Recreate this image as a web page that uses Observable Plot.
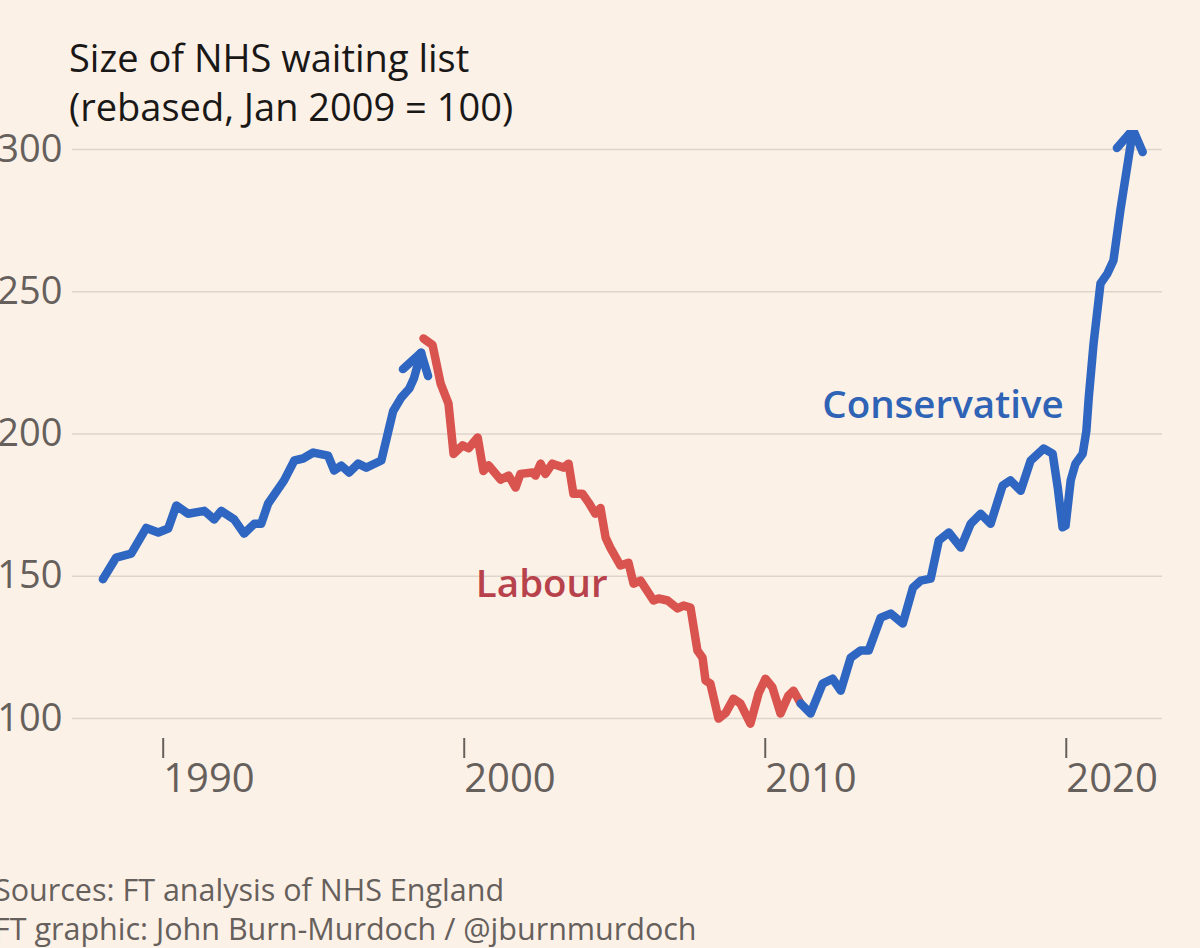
<!DOCTYPE html>
<html><head><meta charset="utf-8">
<script src="https://cdn.jsdelivr.net/npm/d3@7"></script>
<script src="https://cdn.jsdelivr.net/npm/@observablehq/plot@0.6"></script>
<style>
html,body{margin:0;padding:0;background:#fcf1e7;overflow:hidden;width:1200px;height:948px;}
#wrap{position:relative;width:1200px;height:948px;}
#title{position:absolute;left:69px;top:33px;font-family:"Open Sans",sans-serif;font-size:38px;line-height:49px;color:#1a1817;white-space:nowrap;}
#chart{position:absolute;left:0;top:130px;}
#foot{position:absolute;left:-6px;top:870px;font-family:"Open Sans",sans-serif;font-size:30.5px;line-height:39px;color:#66605c;white-space:nowrap;}
</style>
</head><body>
<div id="wrap">
  <div id="title">Size of NHS waiting list<br>(rebased, Jan 2009 = 100)</div>
  <div id="chart"></div>
  <div id="foot">Sources: FT analysis of NHS England<br>FT graphic: John Burn-Murdoch / @jburnmurdoch</div>
</div>
<script>
// Conservative, 1988–1998
const con1Year = [1988.03, 1988.47, 1988.97, 1989.47, 1989.87, 1990.2, 1990.47, 1990.86, 1991.4, 1991.73, 1991.96, 1992.39, 1992.72, 1993.06, 1993.29, 1993.52, 1994.05, 1994.39, 1994.68, 1995.02, 1995.51, 1995.71, 1995.95, 1996.21, 1996.51, 1996.78, 1997.28, 1997.67, 1997.94, 1998.21, 1998.36, 1998.6];
const con1Value = [149, 156.6, 158, 167, 165.4, 166.8, 174.9, 172, 173, 170, 173, 170, 165, 168.5, 168.5, 175.6, 183.7, 190.7, 191.4, 193.5, 192.4, 187.2, 188.9, 186.5, 189.6, 188.2, 190.7, 208, 212.8, 216, 219.5, 228.6];

// Labour
const labYear = [1998.68, 1998.98, 1999.25, 1999.51, 1999.68, 1999.98, 2000.18, 2000.48, 2000.67, 2000.84, 2001.24, 2001.51, 2001.74, 2001.9, 2002.3, 2002.4, 2002.57, 2002.73, 2002.96, 2003.33, 2003.5, 2003.66, 2003.96, 2004.16, 2004.39, 2004.56, 2004.73, 2004.89, 2005.22, 2005.49, 2005.66, 2005.89, 2006.32, 2006.49, 2006.79, 2007.12, 2007.32, 2007.55, 2007.78, 2007.95, 2008.05, 2008.21, 2008.48, 2008.72, 2008.98, 2009.21, 2009.54, 2009.81, 2010.04, 2010.27, 2010.54, 2010.8, 2010.97, 2011.21];
const labValue = [233.6, 231.3, 217.7, 210.7, 193, 196, 195, 198.8, 187, 189, 184, 185.4, 181.2, 186, 186.5, 185.4, 189.6, 186, 189.6, 188.2, 189.6, 179, 179, 176, 172, 174, 163.6, 160, 153.8, 154.8, 147.4, 148.5, 141.5, 142.2, 141.5, 138.7, 139.7, 139, 123.9, 121.4, 113.4, 112.3, 100, 102, 107, 105.3, 98.2, 108.8, 114, 111, 101.8, 108, 109.8, 105.3];

// Conservative, 2011–2022
const con2Year = [2011.21, 2011.54, 2011.94, 2012.27, 2012.54, 2012.87, 2013.2, 2013.47, 2013.87, 2014.2, 2014.6, 2014.94, 2015.2, 2015.53, 2015.8, 2016.13, 2016.53, 2016.86, 2017.19, 2017.52, 2017.92, 2018.18, 2018.52, 2018.85, 2019.28, 2019.58, 2019.75, 2019.91, 2020.01, 2020.18, 2020.34, 2020.58, 2020.7, 2020.78, 2020.94, 2021.17, 2021.4, 2021.6, 2021.83, 2022.25];
const con2Value = [105.3, 101.8, 112.3, 114, 109.8, 121.4, 123.9, 123.9, 135.5, 136.9, 133.4, 146, 148.5, 149.2, 162.6, 165.4, 160.1, 168.5, 172, 168.5, 181.9, 183.7, 180.1, 190.7, 194.9, 193.1, 181.2, 167.2, 167.8, 183.7, 189.6, 193.1, 201, 212.8, 231.8, 252.9, 256.4, 261, 278.6, 307];

const xTicks = [1990, 2000, 2010, 2020];
const yTicks = [100, 150, 200, 250, 300];

const partyNames = ["Labour", "Conservative"];

const toRows = (ys, vs) => ys.map((y, i) => ({year: y, value: vs[i]}));
const con1 = toRows(con1Year, con1Value);
const lab = toRows(labYear, labValue);
const con2 = toRows(con2Year, con2Value);

const blue = "#2e66c1";
const red = "#d9534f";

const chart = Plot.plot({
  width: 1200,
  height: 700,
  marginTop: 19,
  marginBottom: 92,
  marginLeft: 72,
  marginRight: 38,
  style: {background: "transparent", fontFamily: "'Open Sans', sans-serif"},
  x: {domain: [1987.02, 2023.23]},
  y: {domain: [93, 300]},
  marks: [
    Plot.gridY(yTicks, {stroke: "#ddd5cc", strokeOpacity: 1, strokeWidth: 1.5}),
    Plot.axisY(yTicks, {tickSize: 0, tickPadding: 10, fontSize: 38, color: "#66605c", label: null}),
    Plot.axisX(xTicks, {tickSize: 20, tickPadding: 5, textAnchor: "start", dx: 1, fontSize: 40, color: "#66605c", strokeWidth: 2, tickFormat: d => String(d), label: null}),
    Plot.line(lab, {x: "year", y: "value", stroke: red, strokeWidth: 8.5, strokeLinejoin: "round", strokeLinecap: "round"}),
    Plot.line(con1, {x: "year", y: "value", stroke: blue, strokeWidth: 8.5, strokeLinejoin: "round", strokeLinecap: "round", markerEnd: "arrow"}),
    Plot.line(con2, {x: "year", y: "value", stroke: blue, strokeWidth: 8.5, strokeLinejoin: "round", strokeLinecap: "round", markerEnd: "arrow"}),
    Plot.text([partyNames[0]], {x: 2000.42, y: 147, text: d => d, textAnchor: "start", fontSize: 38.5, fontWeight: 600, fill: "#b8424b"}),
    Plot.text([partyNames[1]], {x: 2019.95, y: 210, text: d => d, textAnchor: "end", fontSize: 38.5, fontWeight: 600, fill: "#2f63b5"})
  ]
});
// narrower arrowhead whose tip sits on the line's last point
d3.select(chart).selectAll("marker path").attr("d", "M-3.65,-2.3L0,0L-3.65,2.3");
document.getElementById("chart").appendChild(chart);
</script>
</body></html>
